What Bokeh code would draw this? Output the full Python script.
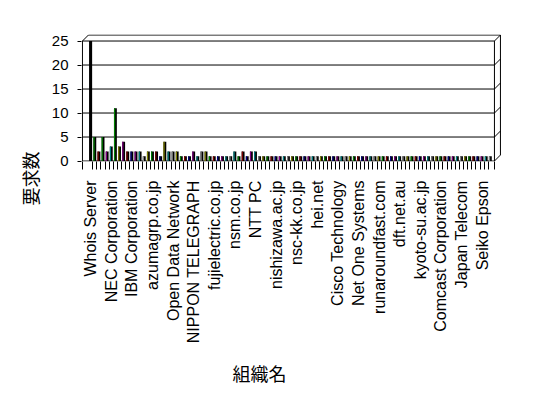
import math
from bokeh.plotting import figure
from bokeh.models import Range1d, FixedTicker, Title
from bokeh.embed import file_html
from bokeh.resources import INLINE

# ---- data ----
organizations = [
    "Whois Server", "NEC Corporation", "IBM Corporation", "azumagrp.co.jp",
    "Open Data Network", "NIPPON TELEGRAPH", "fujielectric.co.jp", "nsm.co.jp",
    "NTT PC", "nishizawa.ac.jp", "nsc-kk.co.jp", "hei.net",
    "Cisco Technology", "Net One Systems", "runaroundfast.com", "dft.net.au",
    "kyoto-su.ac.jp", "Comcast Corporation", "Japan Telecom", "Seiko Epson",
]
label_step = 5  # every 5th organization is labelled

requests = [
    25, 5, 2, 5, 2, 3, 11, 3, 4, 2,
    2, 2, 2, 1, 2, 2, 2, 1, 4, 2,
    2, 2, 1, 1, 1, 2, 1, 2, 2, 1,
    1, 1, 1, 1, 1, 2, 1, 2, 1, 2,
    2, 1, 1, 1, 1, 1, 1, 1, 1, 1,
    1, 1, 1, 1, 1, 1, 1, 1, 1, 1,
    1, 1, 1, 1, 1, 1, 1, 1, 1, 1,
    1, 1, 1, 1, 1, 1, 1, 1, 1, 1,
    1, 1, 1, 1, 1, 1, 1, 1, 1, 1,
    1, 1, 1, 1, 1, 1, 1, 1,
]
y_ticks = [0, 5, 10, 15, 20, 25]

palette = ["#000000", "#808000", "#008000", "#800000",
           "#000080", "#800080", "#008080", "#808080"]
special = {0: "#000000", 1: "#008000", 3: "#008000", 6: "#008000",
           8: "#800080", 18: "#808000", 35: "#008080"}

N = len(requests)
xs = list(range(N))
colors = [special.get(i, palette[(i % 7) + 1]) for i in xs]
tick_pos = [i * label_step for i in range(len(organizations))]

# ---- geometry ----
PX_X, PX_Y = 4.12, 4.8
W, H = 540, 398
BL, BR, BT = 81, 38, 34
FRAME_H = 127
BB = H - BT - FRAME_H
x_start = -2.23
x_end = x_start + (W - BL - BR) / PX_X
y_start = -0.1
y_end = y_start + FRAME_H / PX_Y
left_x, right_x = -2.0, N
dx, dy = 6 / PX_X, 6 / PX_Y
ymax = y_ticks[-1]

p = figure(width=W, height=H, output_backend="svg", toolbar_location=None,
           x_range=Range1d(x_start, x_end), y_range=Range1d(y_start, y_end),
           min_border_left=BL, min_border_right=BR,
           min_border_top=BT, min_border_bottom=BB)
p.outline_line_color = None
p.grid.visible = False
p.background_fill_color = "white"
p.border_fill_color = "white"

# 3D frame: gridlines on front plane + depth diagonals
n = len(y_ticks)
p.segment(x0=[left_x] * n, y0=y_ticks, x1=[right_x] * n, y1=y_ticks,
          line_color="black", line_width=1)
p.segment(x0=[right_x] * n, y0=y_ticks, x1=[right_x + dx] * n,
          y1=[t + dy for t in y_ticks], line_color="black", line_width=1)
p.segment(x0=[left_x, right_x, right_x + dx, left_x, left_x + dx],
          y0=[0, 0, dy, ymax, ymax + dy],
          x1=[left_x, right_x, right_x + dx, left_x + dx, right_x + dx],
          y1=[ymax, ymax, ymax + dy, ymax + dy, ymax + dy],
          line_color="black", line_width=1)

# bars
p.vbar(x=xs, top=requests, width=0.7, bottom=0,
       fill_color="black", line_color=None)
p.vbar(x=[x - 0.2 for x in xs], top=requests, width=0.3, bottom=0,
       fill_color=colors, line_color=None)

# axes
xa = p.xaxis[0]
minor = [left_x] + [i + 0.5 for i in range(N - 1)] + [right_x]
xa.ticker = FixedTicker(ticks=tick_pos, minor_ticks=minor)
xa.major_label_overrides = {t: lab for t, lab in zip(tick_pos, organizations)}
xa.axis_line_color = None
xa.major_tick_out = 0
xa.major_tick_in = 0
xa.minor_tick_out = 8
xa.minor_tick_in = 0
xa.minor_tick_line_color = "black"
xa.major_label_orientation = math.pi / 2
xa.major_label_standoff = 11
xa.major_label_text_font = "Liberation Sans"
xa.major_label_text_font_size = "16px"
xa.major_label_text_color = "black"

ya = p.yaxis[0]
ya.ticker = FixedTicker(ticks=y_ticks, minor_ticks=[])
ya.axis_line_color = None
ya.major_tick_out = 4
ya.major_tick_in = 0
ya.major_tick_line_color = "black"
ya.minor_tick_line_color = None
ya.major_label_standoff = 9
ya.major_label_text_font = "Liberation Sans"
ya.major_label_text_font_size = "15px"
ya.major_label_text_color = "black"

# axis titles
p.add_layout(Title(text="要求数", align="left", offset=-44, standoff=12,
                   text_font="Noto Sans CJK JP", text_font_size="18px",
                   text_font_style="normal", text_color="black"), "left")
p.add_layout(Title(text="組織名", align="left", offset=151, standoff=22,
                   text_font="Noto Sans CJK JP", text_font_size="18px",
                   text_font_style="normal", text_color="black"), "below")

open("out.html", "w").write(file_html(p, INLINE))
